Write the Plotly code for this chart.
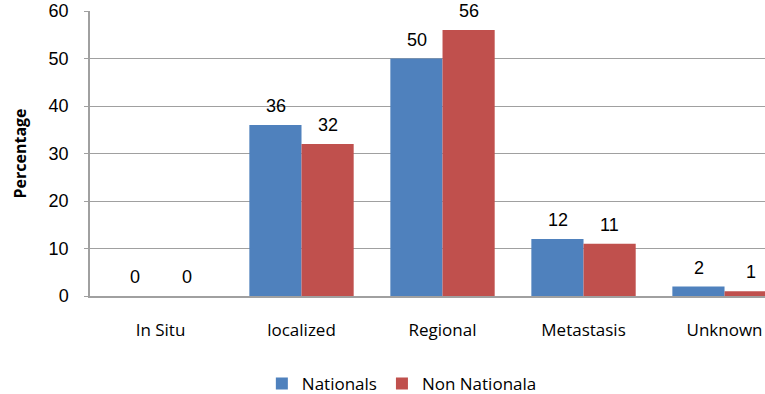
import plotly.graph_objects as go

categories = ["In Situ", "localized", "Regional", "Metastasis", "Unknown"]
nationals = [0, 36, 50, 12, 2]
non_nationals = [0, 32, 56, 11, 1]
series_names = ["Nationals", "Non Nationala"]
y_ticks = [0, 10, 20, 30, 40, 50, 60]

colors = ["#4F81BD", "#C0504D"]
series = [nationals, non_nationals]

fig = go.Figure()
for name, vals, col in zip(series_names, series, colors):
    fig.add_trace(go.Bar(
        x=categories, y=vals, name=name,
        marker=dict(color=col, line=dict(width=0)),
    ))

# data labels
for i, vals in enumerate(series):
    shift = -26 if i == 0 else 26
    for cat, v in zip(categories, vals):
        fig.add_annotation(
            x=cat, y=v, text=str(v), showarrow=False,
            xref="x", yref="y", xanchor="center", yanchor="bottom",
            xshift=shift, yshift=7,
            font=dict(family="Liberation Sans, Arial", size=18, color="#000000"),
        )

fig.update_layout(
    width=765, height=394,
    margin=dict(l=90, r=0, t=11, b=98, autoexpand=False),
    paper_bgcolor="white", plot_bgcolor="white",
    barmode="group", bargap=0.26, bargroupgap=0,
    showlegend=True,
    legend=dict(orientation="h", x=0.462, xanchor="center", y=-0.245, yanchor="top",
                font=dict(family="Open Sans, Noto Sans", size=17, color="#000000"),
                traceorder="normal"),
)
fig.update_xaxes(
    range=[-0.5, 4.287], showline=True, linecolor="#A0A0A0", linewidth=1.5,
    ticks="", tickfont=dict(family="Open Sans, Noto Sans", size=17, color="#000000"),
    ticklabelstandoff=18, showgrid=False, fixedrange=True, automargin=False,
)
fig.update_yaxes(
    range=[0, 60], tickvals=y_ticks, showline=True, linecolor="#A0A0A0", linewidth=1.5,
    showgrid=True, gridcolor="#A0A0A0", gridwidth=1,
    ticks="outside", ticklen=4, tickcolor="#A0A0A0",
    tickfont=dict(family="Liberation Sans, Arial", size=18, color="#000000"),
    ticklabelstandoff=12, zeroline=False, automargin=False,
    title=dict(text="<b>Percentage</b>", font=dict(family="Open Sans, Noto Sans", size=16, color="#000000"), standoff=18),
)

fig.write_html("out.html")
